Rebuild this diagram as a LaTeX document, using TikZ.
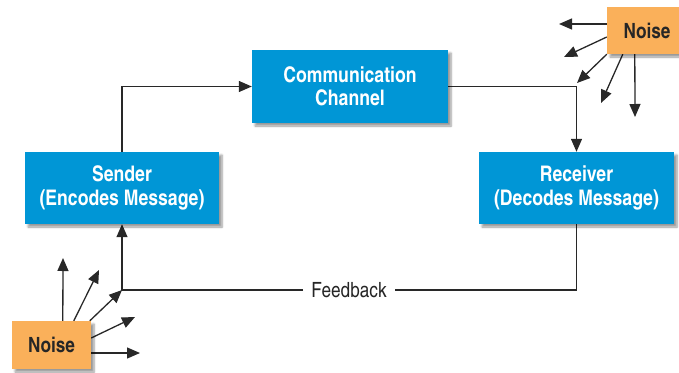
\documentclass[tikz,border=0pt]{standalone}
\usepackage{fontspec}
\setmainfont{TeX Gyre Heros Cn}
\usetikzlibrary{arrows.meta,shadows.blur,backgrounds,calc}
\definecolor{boxblue}{RGB}{0,150,214}
\definecolor{noiseor}{RGB}{250,176,90}
\definecolor{linegray}{RGB}{40,40,40}
\tikzset{
  bluebox/.style={rectangle, fill=boxblue, text=white, font=\fontsize{21.5}{23.5}\selectfont\bfseries, align=center, inner sep=0pt, blur shadow={shadow xshift=3pt, shadow yshift=-3pt, shadow blur steps=6, shadow opacity=40}},
  noisebox/.style={rectangle, fill=noiseor, text=black!85, font=\fontsize{21}{23}\selectfont\bfseries, inner sep=0pt, blur shadow={shadow xshift=3pt, shadow yshift=-3pt, shadow blur steps=6, shadow opacity=40}},
  conn/.style={draw=linegray, line width=1.3pt},
  arr/.style={conn, -{Triangle[length=13pt,width=11pt]}},
}
\begin{document}
\begin{tikzpicture}[x=1pt,y=-1pt]
\useasboundingbox (0,0) rectangle (679,372);
\node[bluebox, minimum width=196pt, minimum height=73pt] (chan) at (350,86.5) {Communication\\Channel};
\node[bluebox, minimum width=194pt, minimum height=72pt] (send) at (122,188) {Sender\\(Encodes Message)};
\node[bluebox, minimum width=195pt, minimum height=72pt] (recv) at (576.5,188) {Receiver\\(Decodes Message)};
\node[noisebox, minimum width=80pt, minimum height=47pt] (ntr) at (647,30.5) {Noise};
\node[noisebox, minimum width=79pt, minimum height=48pt] (nbl) at (51.5,345) {Noise};
\node[font=\fontsize{21}{23}\selectfont, text=black!85, inner xsep=8pt] (fb) at (349,290) {Feedback};
% tips
\coordinate (t1) at (559,24);
\coordinate (t2) at (564,57);
\coordinate (t3) at (577,83);
\coordinate (t4) at (601,103);
\coordinate (t5) at (635,117);
\coordinate (b1) at (63,258);
\coordinate (b2) at (99,270);
\coordinate (b3) at (122,290);
\coordinate (b4) at (135,317);
\coordinate (b5) at (140,353);
\begin{scope}[on background layer]
\draw[arr] (send.north) |- (chan.west);
\draw[arr] (chan.east) -| (recv.north);
\draw[conn] (recv.south) |- (fb.east);
\draw[arr] (fb.west) -| (send.south);
\draw[arr] (ntr.west |- 0,24) -- (t1);
\draw[arr] (ntr.west |- 0,37) -- (t2);
\draw[arr] (ntr.south west) -- (t3);
\draw[arr] ($(ntr.south west)+(16,0)$) -- (t4);
\draw[arr] ($(ntr.south west)+(28,0)$) -- (t5);
\draw[arr] ($(nbl.north west)+(51,0)$) -- (b1);
\draw[arr] ($(nbl.north west)+(62,0)$) -- (b2);
\draw[arr] ($(nbl.north west)+(78,0)$) -- (b3);
\draw[arr] (nbl.east |- 0,338) -- (b4);
\draw[arr] (nbl.east |- 0,353) -- (b5);
\end{scope}
\end{tikzpicture}
\end{document}
